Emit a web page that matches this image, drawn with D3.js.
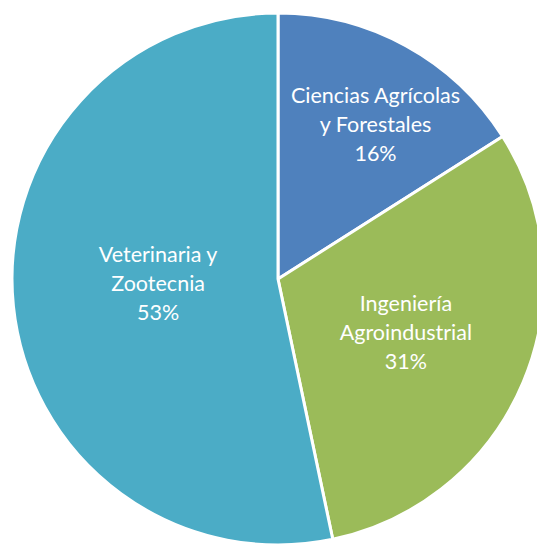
<!DOCTYPE html>
<html><head><meta charset="utf-8">
<script src="https://cdn.jsdelivr.net/npm/d3@7"></script>
<style>html,body{margin:0;padding:0;background:#fff;overflow:hidden}</style>
</head><body>
<svg id="chart" width="537" height="544"></svg>
<script>
const categories = ["Ciencias Agrícolas y Forestales", "Ingeniería Agroindustrial", "Veterinaria y Zootecnia"];
const labelLines = [["Ciencias Agrícolas", "y Forestales"], ["Ingeniería", "Agroindustrial"], ["Veterinaria y", "Zootecnia"]];
const values = [16.0, 30.7, 53.3];
const percentLabels = ["16%", "31%", "53%"];
const colors = ["#4F81BD", "#9BBB59", "#4BACC6"];
const labelRadiusFactor = [0.688, 0.521, 0.451];
const labelAngleShiftDeg = [3.4, -0.2, 4.0];

const svg = d3.select("#chart");
const cx = 278, cy = 279, r = 266;
const g = svg.append("g").attr("transform", `translate(${cx},${cy})`);
const pie = d3.pie().sort(null).value(d => d)(values);
const arc = d3.arc().innerRadius(0).outerRadius(r);

g.selectAll("path").data(pie).enter().append("path")
  .attr("d", arc)
  .attr("fill", (d, i) => colors[i])
  .attr("stroke", "#fff").attr("stroke-width", 3).attr("stroke-linejoin", "round");

pie.forEach((d, i) => {
  const rr = r * labelRadiusFactor[i];
  const a = (d.startAngle + d.endAngle) / 2 + labelAngleShiftDeg[i] * Math.PI / 180;
  const x = rr * Math.sin(a), y = -rr * Math.cos(a);
  const lines = labelLines[i].concat([percentLabels[i]]);
  const lh = 29;
  const t = g.append("text").attr("text-anchor", "middle")
    .attr("font-family", "Lato, 'Open Sans', sans-serif").attr("font-size", 21.5)
    .attr("fill", "#fff");
  lines.forEach((s, k) => {
    t.append("tspan").attr("x", x).attr("y", y + (k - (lines.length - 1) / 2) * lh)
      .attr("dy", "0.35em").text(s);
  });
});
</script>
</body></html>
